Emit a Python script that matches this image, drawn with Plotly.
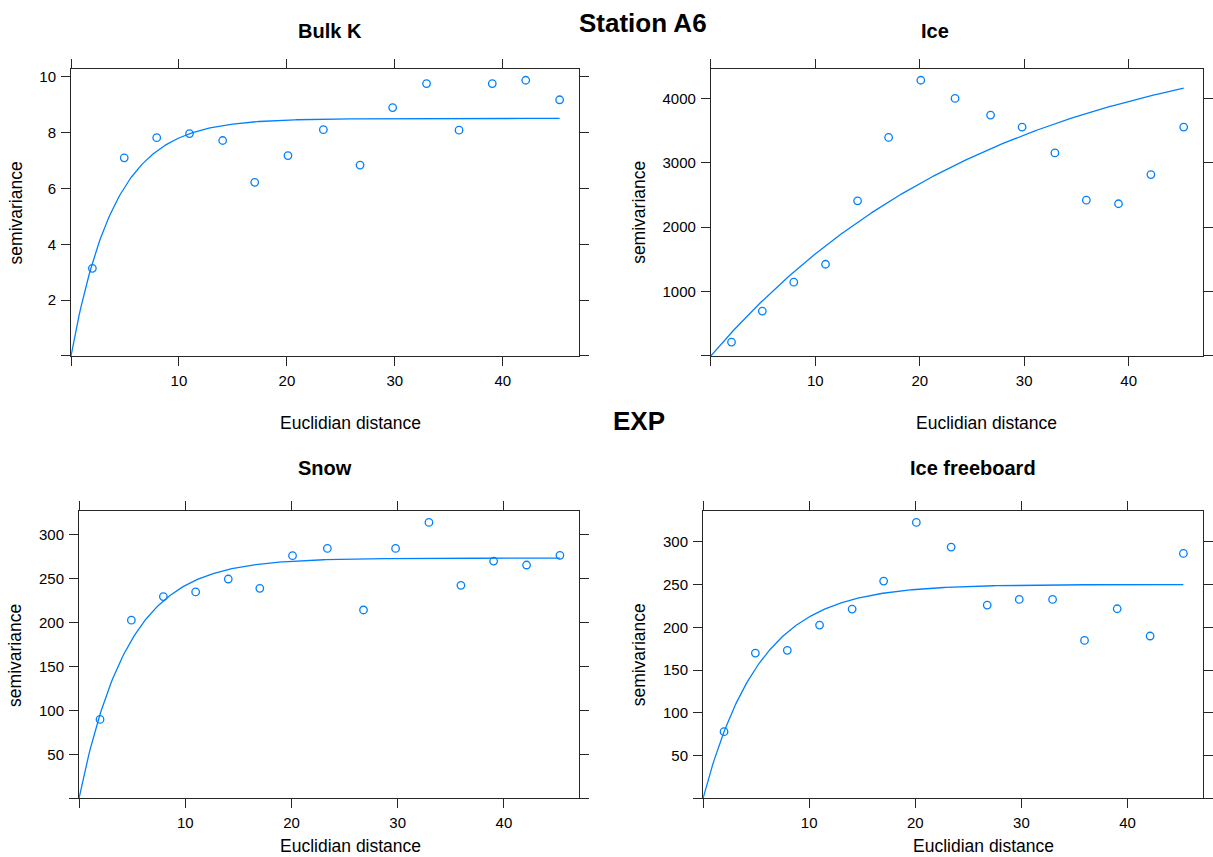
import numpy as np
import plotly.graph_objects as go

# Sample variogram lag distances (shared by all four variables)
dist = [1.98, 4.93, 7.94, 10.98, 14.05, 17.02, 20.10, 23.38, 26.78, 29.80,
        32.94, 35.95, 39.03, 42.13, 45.27]

# Empirical semivariances
gamma_bulk_k = [3.14, 7.10, 7.82, 7.97, 7.72, 6.22, 7.18, 8.11, 6.84, 8.90,
                9.76, 8.09, 9.76, 9.88, 9.18]
gamma_ice = [215, 696, 1145, 1424, 2410, 3395, 4283, 4000, 3742, 3556,
             3153, 2420, 2364, 2818, 3556]
gamma_snow = [89.7, 202.5, 229.3, 234.6, 249.3, 238.7, 275.8, 284.1, 214.1,
              284.1, 313.6, 242.1, 269.7, 265.2, 276.2]
gamma_freeboard = [78.0, 169.9, 173.1, 202.6, 221.3, 254.0, 322.6, 293.8,
                   226.0, 232.6, 232.6, 184.7, 221.7, 189.8, 286.4]

# Fitted exponential models: (partial sill, range parameter)
model_bulk_k = (8.51, 4.0)
model_ice = (5118.0, 27.0)
model_snow = (273.0, 4.6)
model_freeboard = (250.0, 5.3)

x_ticks = [0, 10, 20, 30, 40]
y_ticks_bulk_k = [0, 2, 4, 6, 8, 10]
y_ticks_ice = [0, 1000, 2000, 3000, 4000]
y_ticks_snow = [0, 50, 100, 150, 200, 250, 300]
y_ticks_freeboard = [0, 50, 100, 150, 200, 250, 300]

W, H = 1213, 857
BLUE = "#0080ff"
AXIS = "#262626"
FONT = "Liberation Sans, Arial, sans-serif"

panels = [
    # name, gamma, model, yticks, box (left, right, top, bottom px), title pos, xlab pos, ylab pos
    dict(name="Bulk K", g=gamma_bulk_k, m=model_bulk_k, yt=y_ticks_bulk_k,
         box=(71.2, 580.6, 68.3, 355.3), tp=(331, 30), xp=(351, 422), yp=(15.7, 212)),
    dict(name="Ice", g=gamma_ice, m=model_ice, yt=y_ticks_ice,
         box=(712.6, 1205.6, 68.3, 355.3), tp=(937, 30), xp=(989, 422), yp=(640.7, 212)),
    dict(name="Snow", g=gamma_snow, m=model_snow, yt=y_ticks_snow,
         box=(79.2, 580.6, 511.0, 798.3), tp=(326, 468), xp=(351, 845.5), yp=(15.7, 655)),
    dict(name="Ice freeboard", g=gamma_freeboard, m=model_freeboard, yt=y_ticks_freeboard,
         box=(704.8, 1205.6, 511.0, 798.3), tp=(975, 468), xp=(986, 845.5), yp=(640.7, 655)),
]

fig = go.Figure()
annotations = []
xmax = 1.04 * max(dist)
h = np.linspace(0, max(dist), 300)

for i, p in enumerate(panels, start=1):
    xa = "x" if i == 1 else f"x{i}"
    ya = "y" if i == 1 else f"y{i}"
    sill, rng = p["m"]
    fig.add_trace(go.Scatter(
        x=h, y=sill * (1 - np.exp(-h / rng)), mode="lines",
        line=dict(color=BLUE, width=1.3), xaxis=xa, yaxis=ya, hoverinfo="skip"))
    fig.add_trace(go.Scatter(
        x=dist, y=p["g"], mode="markers",
        marker=dict(symbol="circle-open", size=7.5, color=BLUE, line=dict(width=1.3, color=BLUE)),
        xaxis=xa, yaxis=ya))

    left, right, top, bottom = p["box"]
    common = dict(showline=True, linecolor=AXIS, linewidth=1, mirror="ticks",
                  ticks="outside", ticklen=9, tickcolor=AXIS, tickwidth=1,
                  showgrid=False, zeroline=False,
                  tickfont=dict(family=FONT, size=15, color="black"))
    fig.layout[f"xaxis{'' if i == 1 else i}"] = dict(
        domain=[left / W, right / W], range=[0, xmax], anchor=ya,
        tickvals=x_ticks, ticktext=["" if v == 0 else str(v) for v in x_ticks],
        ticklabelstandoff=2, **common)
    ymax = 1.04 * max(p["g"])
    fig.layout[f"yaxis{'' if i == 1 else i}"] = dict(
        domain=[1 - bottom / H, 1 - top / H], range=[0, ymax], anchor=xa,
        tickvals=p["yt"], ticktext=["" if v == 0 else str(v) for v in p["yt"]],
        ticklabelstandoff=2, **common)

    annotations.append(dict(text=f"<b>{p['name']}</b>", x=p["tp"][0] / W, y=1 - p["tp"][1] / H,
                            xref="paper", yref="paper", showarrow=False,
                            xanchor="center", yanchor="middle",
                            font=dict(family=FONT, size=20, color="black")))
    annotations.append(dict(text="Euclidian distance", x=p["xp"][0] / W, y=1 - p["xp"][1] / H,
                            xref="paper", yref="paper", showarrow=False,
                            xanchor="center", yanchor="middle",
                            font=dict(family=FONT, size=17.5, color="black")))
    annotations.append(dict(text="semivariance", x=p["yp"][0] / W, y=1 - p["yp"][1] / H,
                            xref="paper", yref="paper", showarrow=False, textangle=-90,
                            xanchor="center", yanchor="middle",
                            font=dict(family=FONT, size=17.5, color="black")))

annotations.append(dict(text="<b>Station A6</b>", x=645 / W, y=1 - 22 / H,
                        xref="paper", yref="paper", showarrow=False,
                        xanchor="center", yanchor="middle",
                        font=dict(family=FONT, size=26, color="black")))
annotations.append(dict(text="<b>EXP</b>", x=641 / W, y=1 - 420 / H,
                        xref="paper", yref="paper", showarrow=False,
                        xanchor="center", yanchor="middle",
                        font=dict(family=FONT, size=26, color="black")))

fig.update_layout(width=W, height=H, margin=dict(l=0, r=0, t=0, b=0),
                  paper_bgcolor="white", plot_bgcolor="white",
                  showlegend=False, annotations=annotations)

fig.write_html("out.html")
